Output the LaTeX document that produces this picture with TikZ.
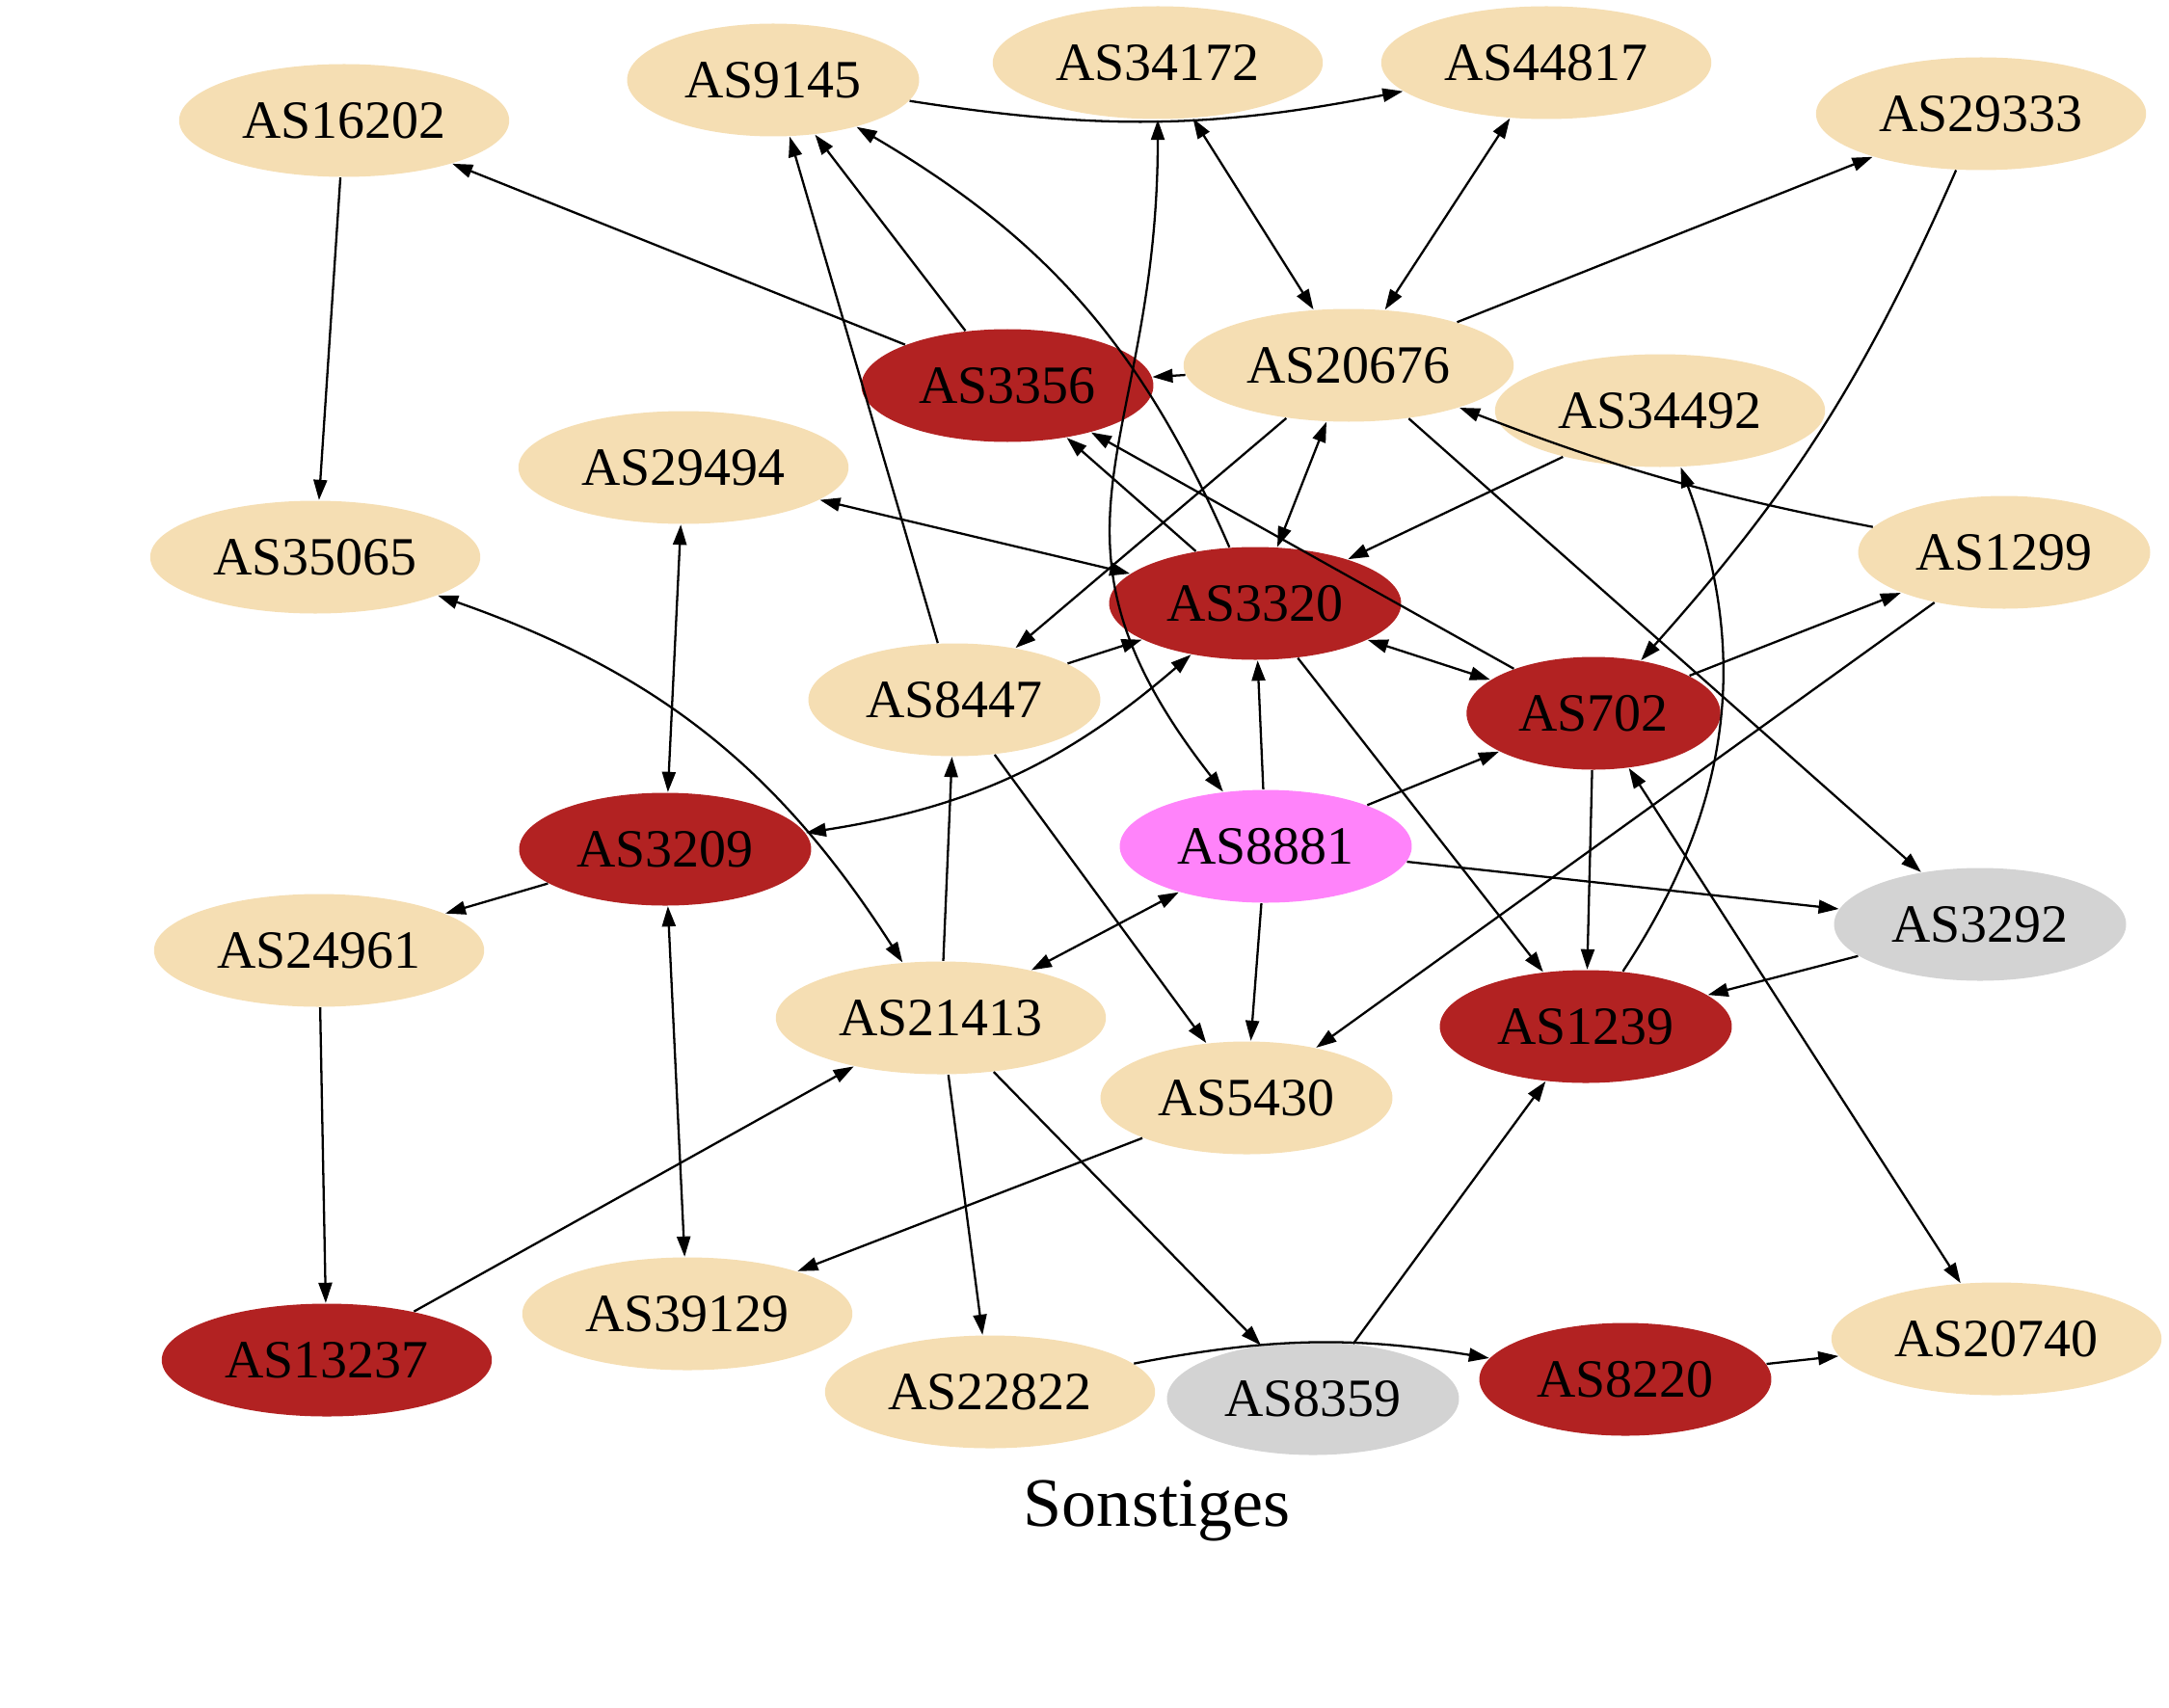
\documentclass[tikz,border=0pt]{standalone}
\usepackage{fontspec}
\setmainfont{Liberation Serif}
\usetikzlibrary{shapes.geometric,arrows.meta}

\definecolor{wheatbg}{HTML}{F5DEB3}
\definecolor{firebrk}{HTML}{B22222}
\definecolor{pinkish}{HTML}{FF83FA}
\definecolor{greybg}{HTML}{D3D3D3}

\begin{document}
\begin{tikzpicture}[
    asn/.style={ellipse, fill=wheatbg, inner xsep=0.155cm, inner ysep=0pt, minimum height=1.17cm, font=\fontsize{15.9}{18}\selectfont},
    tierone/.style={asn, fill=firebrk},
    unknown/.style={asn, fill=greybg},
    source/.style={asn, fill=pinkish},
    arr/.style={-{Triangle[length=2.1mm,width=1.4mm]}, line width=0.65pt},
    biarr/.style={{Triangle[length=2.1mm,width=1.4mm]}-{Triangle[length=2.1mm,width=1.4mm]}, line width=0.65pt}
]
    \useasboundingbox (0,0) rectangle (22.5,17.71);

    % top
    \node[asn] (as16202) at (3.57, 16.46) {AS16202};
    \node[asn] (as9145) at (8.02, 16.88) {AS9145};
    \node[asn] (as34172) at (12.01, 17.06) {AS34172};
    \node[asn] (as44817) at (16.04, 17.06) {AS44817};
    \node[asn] (as29333) at (20.55, 16.53) {AS29333};

    \node[asn] (as20676) at (13.99, 13.92) {AS20676};
    \node[tierone] (as3356) at (10.45, 13.71) {AS3356};
    \node[asn] (as34492) at (17.22, 13.45) {AS34492};
    \node[asn] (as29494) at (7.09, 12.86) {AS29494};
    \node[asn] (as35065) at (3.27, 11.93) {AS35065};
    \node[asn] (as1299) at (20.79, 11.98) {AS1299};
    \node[tierone] (as3320) at (13.02, 11.45) {AS3320};
    \node[asn] (as8447) at (9.90, 10.45) {AS8447};
    \node[tierone] (as702) at (16.53, 10.31) {AS702};

    % middle
    \node[tierone] (as3209) at (6.90, 8.90) {AS3209};
    \node[source] (as8881) at (13.13, 8.93) {AS8881};
    \node[unknown] (as3292) at (20.54, 8.12) {AS3292};
    \node[asn] (as24961) at (3.31, 7.85) {AS24961};
    \node[asn] (as21413) at (9.76, 7.15) {AS21413};
    \node[tierone] (as1239) at (16.45, 7.06) {AS1239};
    \node[asn] (as5430) at (12.93, 6.32) {AS5430};

    % bottom
    \node[asn] (as39129) at (7.13, 4.08) {AS39129};
    \node[tierone] (as13237) at (3.39, 3.60) {AS13237};
    \node[asn] (as22822) at (10.27, 3.27) {AS22822};
    \node[unknown] (as8359) at (13.62, 3.20) {AS8359};
    \node[tierone] (as8220) at (16.86, 3.40) {AS8220};
    \node[asn] (as20740) at (20.71, 3.82) {AS20740};

    \node[anchor=base, font=\fontsize{20.5}{24}\selectfont] (caption) at (12.00, 1.88) {Sonstiges};

    % edges
    \draw[arr] (as16202) -- (as35065);
    \draw[arr] (as3356) -- (as16202);
    \draw[arr] (as3356) -- (as9145);
    \draw[arr] (as8447) -- (as9145);
    \draw[arr] (as3320) to[bend right=18] (as9145);
    \draw[arr] (as9145) to[bend right=10] (as44817);
    \draw[biarr] (as34172) to[out=-90, in=128, looseness=1.25] (as8881);
    \draw[biarr] (as34172) -- (as20676);
    \draw[biarr] (as44817) -- (as20676);
    \draw[arr] (as20676) -- (as29333);
    \draw[arr] (as29333) to[bend left=9] (as702);
    \draw[arr] (as20676) -- (as3356);
    \draw[arr] (as20676) -- (as8447);
    \draw[biarr] (as20676) -- (as3320);
    \draw[arr] (as20676) -- (as3292);
    \draw[arr] (as1299) to[bend left=5] (as20676);
    \draw[arr] (as34492) -- (as3320);
    \draw[arr] (as3320) -- (as3356);
    \draw[arr] (as702) -- (as3356);
    \draw[biarr] (as29494) -- (as3320);
    \draw[biarr] (as29494) -- (as3209);
    \draw[biarr] (as21413) to[bend right=19] (as35065);
    \draw[arr] (as3209) -- (as24961);
    \draw[arr] (as24961) -- (as13237);
    \draw[biarr] (as3209) to[bend right=16] (as3320);
    \draw[arr] (as8447) -- (as3320);
    \draw[arr] (as21413) -- (as8447);
    \draw[arr] (as8447) -- (as5430);
    \draw[arr] (as8881) -- (as3320);
    \draw[biarr] (as8881) -- (as21413);
    \draw[arr] (as8881) -- (as5430);
    \draw[arr] (as8881) -- (as702);
    \draw[arr] (as8881) -- (as3292);
    \draw[biarr] (as3320) -- (as702);
    \draw[arr] (as3320) -- (as1239);
    \draw[arr] (as702) -- (as1299);
    \draw[arr] (as1299) -- (as5430);
    \draw[arr] (as702) -- (as1239);
    \draw[arr] (as1239) to[bend right=27] (as34492);
    \draw[arr] (as3292) -- (as1239);
    \draw[biarr] (as702) -- (as20740);
    \draw[arr] (as5430) -- (as39129);
    \draw[biarr] (as3209) -- (as39129);
    \draw[arr] (as13237) -- (as21413);
    \draw[arr] (as21413) -- (as22822);
    \draw[arr] (as21413) -- (as8359);
    \draw[arr] (as22822) to[bend left=10] (as8220);
    \draw[arr] (as8359) -- (as1239);
    \draw[arr] (as8220) -- (as20740);
\end{tikzpicture}
\end{document}
